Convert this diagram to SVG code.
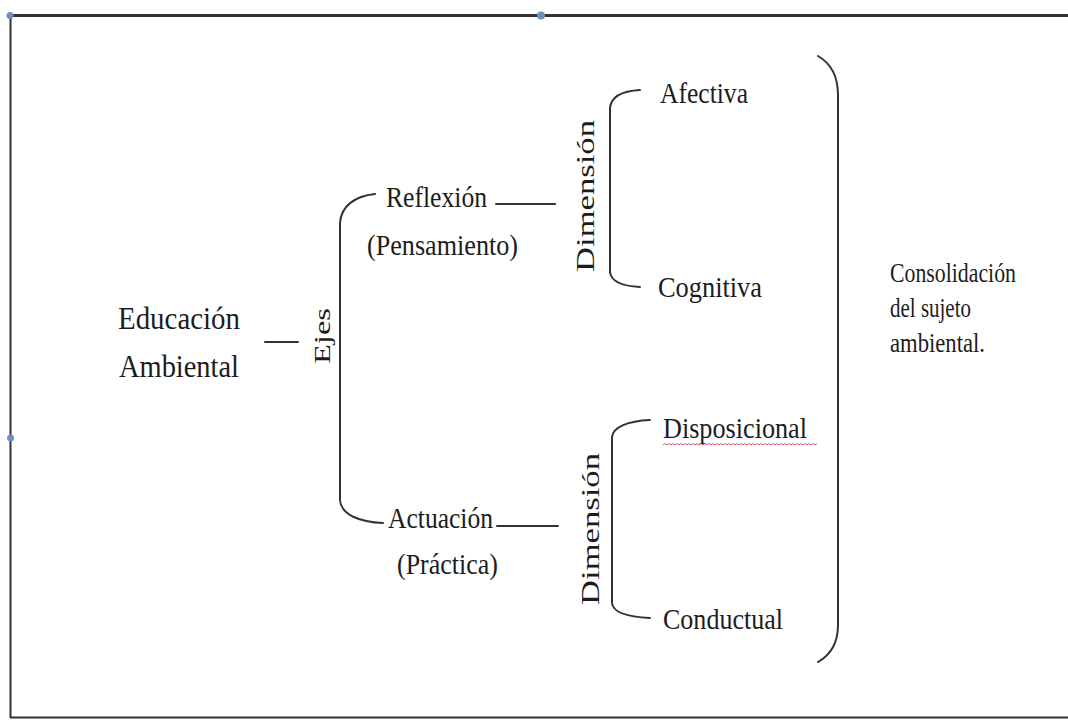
<svg xmlns="http://www.w3.org/2000/svg" width="1068" height="720" viewBox="0 0 1068 720">
  <style>
    .t { font-family: "Liberation Serif", "Times New Roman", serif; fill: #1c1c1c; }
    .big { font-size: 32px; }
    .mid { font-size: 28.5px; }
    .sm { font-size: 27px; }
    .frame { stroke: #333; fill: none; }
    .br { stroke: #333; stroke-width: 2; fill: none; stroke-linecap: round; }
    .handle { fill: #6f8fc4; }
  </style>
  <rect width="1068" height="720" fill="#ffffff"/>

  <!-- page frame with selection handles -->
  <g id="frame">
    <line class="frame" x1="8" y1="15.5" x2="1068" y2="15.5" stroke-width="3"/>
    <line class="frame" x1="10.5" y1="15" x2="10.5" y2="718" stroke-width="2"/>
    <line class="frame" x1="10" y1="717.5" x2="1068" y2="717.5" stroke-width="2"/>
    <circle class="handle" cx="10" cy="15.5" r="3.5"/>
    <circle class="handle" cx="541" cy="15.5" r="4"/>
    <circle class="handle" cx="10.5" cy="438" r="3.5"/>
  </g>

  <!-- connectors: dashes and braces -->
  <g id="connectors">
    <line class="br" x1="265" y1="342" x2="298" y2="342"/>
    <line class="br" x1="496" y1="204" x2="555" y2="204"/>
    <line class="br" x1="497" y1="526" x2="558" y2="526"/>
    <path id="brace-ejes" class="br" d="M 375 194 C 355 196, 341 206, 340 223 L 340 500 C 341 515, 360 522, 383 523"/>
    <path id="brace-dim1" class="br" d="M 640 90 C 622 91, 611 97, 610 108 L 610 272 C 611 282, 622 286, 640 287"/>
    <path id="brace-dim2" class="br" d="M 650 420 C 628 421, 613 427, 612 437 L 612 603 C 613 613, 628 617, 650 618"/>
    <path id="brace-right" class="br" d="M 818 56 C 832 64, 838 78, 838 95 L 838 625 C 838 642, 832 654, 818 662"/>
  </g>

  <g id="node-educacion">
    <text class="t big" x="118" y="329" textLength="122" lengthAdjust="spacingAndGlyphs">Educación</text>
    <text class="t big" x="119" y="377" textLength="120" lengthAdjust="spacingAndGlyphs">Ambiental</text>
  </g>

  <g id="label-ejes">
    <text class="t" font-size="23" text-anchor="middle" transform="translate(330 336) rotate(-90)" textLength="56" lengthAdjust="spacingAndGlyphs">Ejes</text>
  </g>

  <g id="node-reflexion">
    <text class="t mid" x="386" y="207" textLength="101" lengthAdjust="spacingAndGlyphs">Reflexión</text>
    <text class="t mid" x="367" y="255" textLength="151" lengthAdjust="spacingAndGlyphs">(Pensamiento)</text>
  </g>

  <g id="node-actuacion">
    <text class="t mid" x="388" y="528" textLength="105" lengthAdjust="spacingAndGlyphs">Actuación</text>
    <text class="t mid" x="397" y="574" textLength="101" lengthAdjust="spacingAndGlyphs">(Práctica)</text>
  </g>

  <g id="label-dimension-1">
    <text class="t" font-size="25" text-anchor="middle" transform="translate(594 196) rotate(-90)" textLength="152" lengthAdjust="spacingAndGlyphs">Dimensión</text>
  </g>

  <g id="label-dimension-2">
    <text class="t" font-size="25" text-anchor="middle" transform="translate(599 529) rotate(-90)" textLength="152" lengthAdjust="spacingAndGlyphs">Dimensión</text>
  </g>

  <g id="node-afectiva">
    <text class="t mid" x="660" y="103" textLength="88" lengthAdjust="spacingAndGlyphs">Afectiva</text>
  </g>

  <g id="node-cognitiva">
    <text class="t mid" x="658" y="297" textLength="104" lengthAdjust="spacingAndGlyphs">Cognitiva</text>
  </g>

  <g id="node-disposicional">
    <text class="t mid" x="663" y="438" textLength="144" lengthAdjust="spacingAndGlyphs">Disposicional</text>
    <!-- spell-check squiggle -->
    <path d="M 663 445 l 2 -1.5 l 2 1.5 l 2 -1.5 l 2 1.5 l 2 -1.5 l 2 1.5 l 2 -1.5 l 2 1.5 l 2 -1.5 l 2 1.5 l 2 -1.5 l 2 1.5 l 2 -1.5 l 2 1.5 l 2 -1.5 l 2 1.5 l 2 -1.5 l 2 1.5 l 2 -1.5 l 2 1.5 l 2 -1.5 l 2 1.5 l 2 -1.5 l 2 1.5 l 2 -1.5 l 2 1.5 l 2 -1.5 l 2 1.5 l 2 -1.5 l 2 1.5 l 2 -1.5 l 2 1.5 l 2 -1.5 l 2 1.5 l 2 -1.5 l 2 1.5 l 2 -1.5 l 2 1.5 l 2 -1.5 l 2 1.5 l 2 -1.5 l 2 1.5 l 2 -1.5 l 2 1.5 l 2 -1.5 l 2 1.5 l 2 -1.5 l 2 1.5 l 2 -1.5 l 2 1.5 l 2 -1.5 l 2 1.5 l 2 -1.5 l 2 1.5 l 2 -1.5 l 2 1.5 l 2 -1.5 l 2 1.5 l 2 -1.5 l 2 1.5 l 2 -1.5 l 2 1.5 l 2 -1.5 l 2 1.5 l 2 -1.5 l 2 1.5 l 2 -1.5 l 2 1.5 l 2 -1.5 l 2 1.5 l 2 -1.5 l 2 1.5 l 2 -1.5 l 2 1.5 l 2 -1.5 l 2 1.5 l 2 -1.5" fill="none" stroke="#e0506a" stroke-width="1"/>
  </g>

  <g id="node-conductual">
    <text class="t mid" x="663" y="629" textLength="120" lengthAdjust="spacingAndGlyphs">Conductual</text>
  </g>

  <g id="node-consolidacion">
    <text class="t sm" x="890" y="282" textLength="126" lengthAdjust="spacingAndGlyphs">Consolidación</text>
    <text class="t sm" x="890" y="317" textLength="81" lengthAdjust="spacingAndGlyphs">del sujeto</text>
    <text class="t sm" x="890" y="352" textLength="95" lengthAdjust="spacingAndGlyphs">ambiental.</text>
  </g>
</svg>
